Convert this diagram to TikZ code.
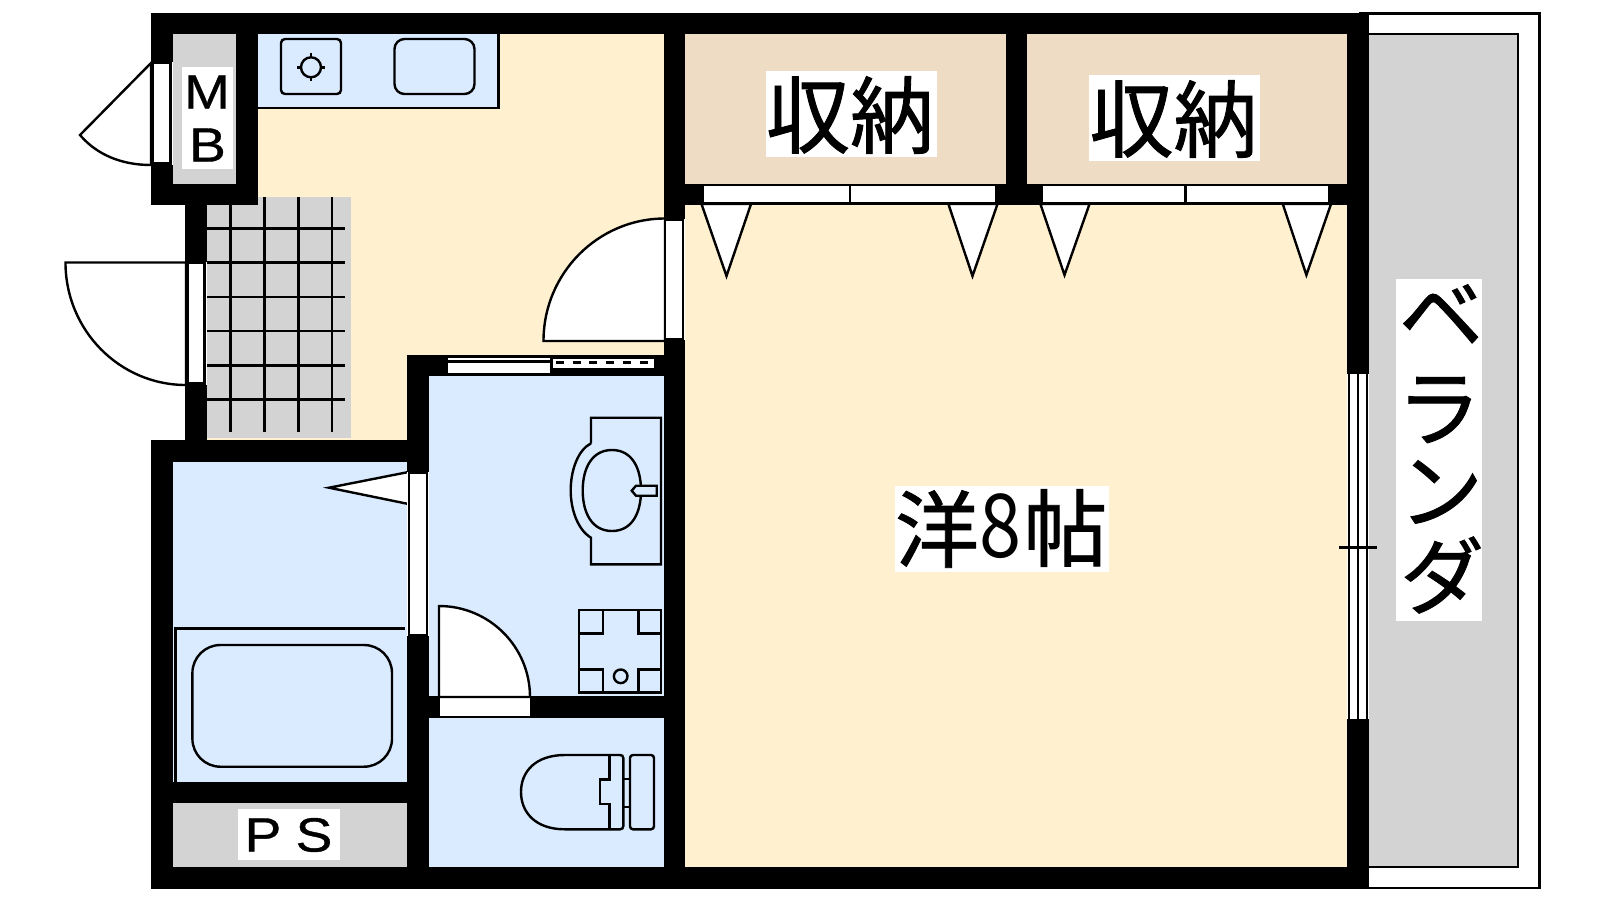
\documentclass[tikz,border=0pt]{standalone}
\usepackage{fontspec}
\setmainfont{Liberation Sans}
\newfontfamily\cjkf[FakeBold=1]{Noto Sans CJK JP}
\newfontfamily\cjkn[FakeStretch=0.86]{Noto Sans CJK JP}
\newfontfamily\latf[FakeStretch=1.15,FakeBold=0.8]{Liberation Sans}
\definecolor{creamc}{HTML}{FFF0D0}
\definecolor{bluec}{HTML}{DAEBFF}
\definecolor{tanc}{HTML}{EEDDC4}
\definecolor{grayc}{HTML}{D3D3D3}
\tikzset{
  wallp/.style={fill=black,draw=none},
  cream/.style={fill=creamc,draw=none},
  wet/.style={fill=bluec,draw=none},
  closetf/.style={fill=tanc,draw=none},
  grayf/.style={fill=grayc,draw=none},
  gapw/.style={fill=white,draw=none},
  ln/.style={draw=black,line width=2.4pt},
  lnw/.style={draw=black,line width=2.4pt,fill=white,line join=miter},
  lnb/.style={draw=black,line width=2.4pt,fill=bluec},
  tilel/.style={draw=black,line width=2.6pt},
  bigjp/.style={font=\cjkf\fontsize{84}{84}\selectfont,inner sep=0pt,text=black},
  digjp/.style={font=\cjkn\fontsize{88}{88}\selectfont,inner sep=0pt,text=black},
  latl/.style={font=\latf\fontsize{48}{48}\selectfont,inner sep=0pt,text=black},
  whitebox/.style={fill=white,draw=none,inner sep=0pt}
}
\begin{document}
\begin{tikzpicture}[x=1pt,y=-1pt]
\useasboundingbox (0,0) rectangle (1600,900);
\fill[white] (0,0) rectangle (1600,900);
% veranda
\draw[lnw] (1360,13.5) rectangle (1539.5,888);
\draw[ln,fill=grayc] (1360,33.7) rectangle (1518,867);
% floors
\fill[cream] (258,33.7) rectangle (664,356);
\fill[cream] (206,197) rectangle (408,440);
\fill[grayf] (206.7,197) rectangle (351,437.7);
\foreach \xx in {230.4,264.3,298.2,332}{\draw[tilel] (\xx,197) -- (\xx,432);}
\foreach \yy in {228.3,262.7,297,331,365.7,399.3}{\draw[tilel] (206.7,\yy) -- (345,\yy);}
\fill[cream] (685,204) rectangle (1347,867);
\fill[closetf] (685,33.7) rectangle (1006,184);
\fill[closetf] (1027,33.7) rectangle (1347,184);
\fill[grayf] (173,33.7) rectangle (236,184);
\fill[grayf] (173,803) rectangle (407,867);
\fill[wet] (173,462) rectangle (407,782);
\fill[wet] (429,375.7) rectangle (664,696);
\fill[wet] (429,717.7) rectangle (664,867);
% kitchen counter
\draw[ln,fill=bluec] (256,32) -- (498.5,32) -- (498.5,108) -- (256,108) -- cycle;
\draw[ln,rounded corners=4pt] (281,39) rectangle (341,94);
\draw[ln,rounded corners=10pt] (394.5,39) rectangle (474.5,94);
\draw[ln] (311,67.3) circle (10);
\draw[ln] (297,67.3) -- (301,67.3) (321,67.3) -- (325,67.3) (311,53.3) -- (311,57.3) (311,77.3) -- (311,81.3);
% walls
\fill[wallp] (151,13.3) rectangle (1369,33.7);
\fill[wallp] (151,13.3) rectangle (173,204.7);
\fill[wallp] (236,33.7) rectangle (258,204.7);
\fill[wallp] (151,184) rectangle (258,204.7);
\fill[wallp] (185,204.7) rectangle (206.7,440);
\fill[wallp] (151,440) rectangle (173,888.7);
\fill[wallp] (151,440) rectangle (429,462);
\fill[wallp] (407,355) rectangle (429,867);
\fill[wallp] (407,355) rectangle (664,375.7);
\fill[wallp] (664,33.7) rectangle (685,867);
\fill[wallp] (1006,33.7) rectangle (1027,204.7);
\fill[wallp] (685,184) rectangle (1347,204.7);
\fill[wallp] (1347,13.3) rectangle (1369,888.7);
\fill[wallp] (151,866.7) rectangle (1369,888.7);
\fill[wallp] (173,782) rectangle (407,803);
\fill[wallp] (429,696) rectangle (664,717.7);
% MB door
\fill[gapw] (151,62) rectangle (173,165);
\draw[lnw] (151,63) -- (80,135) .. controls (97,155) and (122,165) .. (151,165) -- cycle;
\draw[lnw] (152.5,63) rectangle (170.5,163.3);
% entry door
\fill[gapw] (185,262) rectangle (206.7,385);
\draw[lnw] (186,262.5) -- (65.5,262.5) arc[start angle=180,end angle=270,x radius=120.5,y radius=-122.5] -- cycle;
\draw[lnw] (187.5,263) rectangle (204.5,383.5);
% room door
\fill[gapw] (664,219) rectangle (685,340);
\draw[lnw] (665,341) -- (543.5,341) arc[start angle=180,end angle=90,x radius=121.5,y radius=-122.5] -- cycle;
\draw[lnw] (665,220) rectangle (683,339.5);
% washroom sliding door
\fill[white] (447.5,357.7) rectangle (550,373.3);
\fill[black] (447.5,360.2) rectangle (550,363.2);
\fill[white] (552.7,359) rectangle (654.3,368.3);
\draw[line width=2.6pt,dash pattern=on 8pt off 8.7pt] (556,362.6) -- (654.3,362.6);
% bath door
\draw[lnw] (408.5,472) -- (329,487.7) -- (408.5,504) -- cycle;
\fill[gapw] (407,472) rectangle (429,636);
\draw[lnw] (409,472.7) rectangle (427,635);
% bath tub
\draw[ln] (405,628.3) -- (175.4,628.3) -- (175.4,782);
\draw[ln,rounded corners=28pt] (192.4,645) rectangle (392,766.7);
% wash door
\fill[gapw] (439.7,696) rectangle (529.5,715.7);
\draw[lnw] (439,697) -- (439,606) arc[start angle=90,end angle=0,x radius=91,y radius=-91] -- cycle;
% basin
\draw[ln] (591,443.3) -- (591,417.7) -- (661,417.7) -- (661,564.3) -- (591,564.3) -- (591,537.7)
  .. controls (578,530) and (570.7,510) .. (570.7,490.5) .. controls (570.7,470) and (578,450) .. (591,443.3);
\draw[ln] (612,450) .. controls (632,450) and (641,468) .. (641,490.5) .. controls (641,513) and (632,531) .. (612,531)
  .. controls (592,531) and (582.7,513) .. (582.7,490.5) .. controls (582.7,468) and (592,450) .. (612,450) -- cycle;
\draw[lnb] (656.7,485.7) -- (636,485.7) -- (631.7,490.7) -- (636,495.7) -- (656.7,495.7) -- cycle;
% washer
\draw[ln] (578.7,610) rectangle (660.7,692.3);
\draw[ln] (578.7,633.3) -- (602.7,633.3) -- (602.7,610);
\draw[ln] (660.7,633.3) -- (638.3,633.3) -- (638.3,610);
\draw[ln] (578.7,669.3) -- (602.7,669.3) -- (602.7,692.3);
\draw[ln] (660.7,669.3) -- (638.3,669.3) -- (638.3,692.3);
\draw[ln] (620.7,676.3) circle (6.8);
% toilet
\draw[ln,rounded corners=3pt] (630,755) rectangle (654,829.3);
\draw[ln] (565,755) -- (620,755) .. controls (622,755) and (623.3,756) .. (623.3,758) -- (623.3,826) .. controls (623.3,828) and (622,829.3) .. (620,829.3) -- (565,829.3)
  .. controls (535,829.3) and (521,812) .. (521,792) .. controls (521,772) and (535,755) .. (565,755) -- cycle;
\draw[ln] (609.3,755) -- (609.3,779.3) -- (600,779.3) -- (600,804) -- (609.3,804) -- (609.3,829.3);
\draw[ln] (623.3,778.7) -- (630,778.7) (623.3,806.7) -- (630,806.7);
% closet doors
\draw[lnw] (702.4,185) rectangle (996.6,202.7);
\draw[ln] (849.7,185) -- (849.7,202.7);
\draw[lnw] (1041.7,185) rectangle (1329.6,202.7);
\draw[ln] (1185.4,185) -- (1185.4,202.7);
\draw[lnw] (701.5,204) -- (751,204) -- (726.5,276) -- cycle;
\draw[lnw] (948.4,204) -- (997.5,204) -- (972.5,276) -- cycle;
\draw[lnw] (1040.4,204) -- (1089.5,204) -- (1064.5,275) -- cycle;
\draw[lnw] (1282.8,204) -- (1331,204) -- (1306.4,275) -- cycle;
% window
\fill[gapw] (1347,374) rectangle (1369,719.3);
\draw[ln] (1349,374) -- (1349,719.3) (1357.7,374) -- (1357.7,719.3) (1366.7,374) -- (1366.7,719.3);
\draw[ln] (1339,547.3) -- (1376.7,547.3);
% labels
\node[whitebox,minimum width=51pt,minimum height=102.5pt] (mbbox) at (207.5,118) {};
\node[latl] (mm) at (207,92) {M};
\node[latl] (bb) at (207.5,145) {B};
\node[whitebox,minimum width=102pt,minimum height=51pt] (psbox) at (289,834.5) {};
\node[latl] (pp) at (263,835) {P};
\node[latl] (ss) at (314,835) {S};
\node[whitebox,minimum width=171pt,minimum height=86pt] (sn1box) at (851.3,114) {};
\node[bigjp] (sn1) at (850,115) {収納};
\node[whitebox,minimum width=171pt,minimum height=86pt] (sn2box) at (1174.5,118) {};
\node[bigjp] (sn2) at (1173.5,119) {収納};
\node[whitebox,minimum width=214pt,minimum height=85.7pt] (rmbox) at (1002,528.8) {};
\node[bigjp] (r1) at (937,529) {洋};
\node[digjp] (r2) at (1000,526) {8};
\node[bigjp] (r3) at (1065.5,528) {帖};
\node[whitebox,minimum width=86pt,minimum height=342.3pt] (vrbox) at (1439,449.8) {};
\node[bigjp] (v1) at (1441,315) {ベ};
\node[bigjp] (v2) at (1439,410) {ラ};
\node[bigjp] (v3) at (1441,492) {ン};
\node[bigjp] (v4) at (1442,575) {ダ};
\end{tikzpicture}
\end{document}
